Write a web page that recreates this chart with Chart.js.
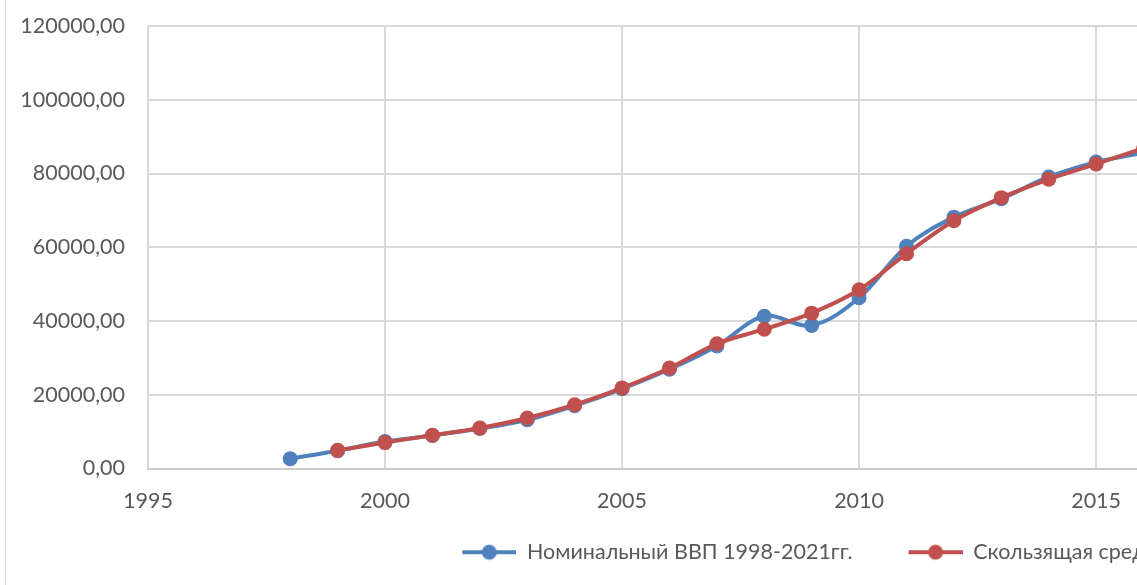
<!DOCTYPE html>
<html>
<head>
<meta charset="utf-8">
<script src="https://cdn.jsdelivr.net/npm/chart.js@4/dist/chart.umd.min.js"></script>
<style>
  html, body { margin: 0; padding: 0; background: #fff; overflow: hidden; }
  #wrap { position: relative; width: 1630px; height: 585px; }
  #frame { position: absolute; left: 5px; top: -4px; width: 1615px; height: 620px; border: 1px solid #d9d9d9; box-sizing: border-box; }
  #chart { position: absolute; left: 0; top: 0; }
</style>
</head>
<body>
<div id="wrap">
  <div id="frame"></div>
  <canvas id="chart" width="1630" height="585"></canvas>
</div>
<script>
// Номинальный ВВП по годам
const gdpYears = [1998, 1999, 2000, 2001, 2002, 2003, 2004, 2005, 2006, 2007, 2008, 2009, 2010, 2011, 2012, 2013, 2014, 2015, 2016];
const gdpValues = [2629, 4823, 7306, 8944, 10831, 13208, 17027, 21610, 26917, 33248, 41277, 38807, 46309, 60283, 68164, 73134, 79058, 83087, 85616];

// Скользящая средняя (начинается с 1999 г.)
const maYears = [1999, 2000, 2001, 2002, 2003, 2004, 2005, 2006, 2007, 2008, 2009, 2010, 2011, 2012, 2013, 2014, 2015, 2016];
const maValues = [4919, 7024, 9027, 10994, 13689, 17282, 21851, 27258, 33814, 37777, 42131, 48466, 58252, 67194, 73452, 78426, 82587, 86849];

const seriesLabels = ['Номинальный ВВП 1998-2021гг.', 'Скользящая средняя'];

const BLUE = '#4f81bd';
const RED = '#c0504d';
const GRID = '#d9d9d9';
const TEXT = '#595959';
const FONT = 'Lato, "Open Sans", sans-serif';
const FS = 21.5;

const toPoints = (xs, ys) => xs.map((x, i) => ({ x, y: ys[i] }));

// Значок легенды: линия с маркером, слева прозрачный отступ (расстояние между элементами)
const LEG_GAP = 31;
function legendMarker(color) {
  const c = document.createElement('canvas');
  c.width = 54 + LEG_GAP; c.height = 18;
  const g = c.getContext('2d');
  g.strokeStyle = color; g.lineWidth = 4;
  g.beginPath(); g.moveTo(LEG_GAP, 9); g.lineTo(LEG_GAP + 54, 9); g.stroke();
  g.fillStyle = color;
  g.beginPath(); g.arc(LEG_GAP + 27, 9, 7.5, 0, Math.PI * 2); g.fill();
  return c;
}
const markers = [legendMarker(BLUE), legendMarker(RED)];

const fmt = (v) => v.toFixed(2).replace('.', ',');

new Chart(document.getElementById('chart'), {
  type: 'line',
  data: {
    datasets: [
      {
        label: seriesLabels[0], data: toPoints(gdpYears, gdpValues),
        borderColor: BLUE, backgroundColor: BLUE, borderWidth: 4,
        pointRadius: 7.5, pointBorderWidth: 0, pointBackgroundColor: BLUE,
        tension: 0.35, order: 1
      },
      {
        label: seriesLabels[1], data: toPoints(maYears, maValues),
        borderColor: RED, backgroundColor: RED, borderWidth: 4,
        pointRadius: 7.5, pointBorderWidth: 0, pointBackgroundColor: RED,
        tension: 0.35, order: 0
      }
    ]
  },
  options: {
    responsive: false,
    animation: false,
    layout: { padding: { top: 26, left: 0, right: 20, bottom: 12 } },
    plugins: {
      tooltip: { enabled: false },
      legend: {
        position: 'bottom',
        labels: {
          usePointStyle: true,
          pointStyleWidth: 54 + LEG_GAP,
          padding: 25,
          color: TEXT,
          font: { family: FONT, size: FS },
          generateLabels: (chart) => chart.data.datasets.map((ds, i) => ({
            text: ds.label, pointStyle: markers[i], fillStyle: ds.borderColor,
            strokeStyle: ds.borderColor, lineWidth: 0, hidden: false,
            datasetIndex: i, fontColor: TEXT
          }))
        }
      }
    },
    scales: {
      x: {
        type: 'linear', min: 1995, max: 2025.84,
        afterFit: (s) => { s.height = 48; },
        grid: { color: GRID, lineWidth: 2, drawTicks: false },
        border: { color: '#cccccc', width: 2 },
        ticks: {
          stepSize: 5, padding: 20, color: TEXT, font: { family: FONT, size: FS },
          callback: (v) => (v % 5 === 0 ? String(v) : '')
        }
      },
      y: {
        min: 0, max: 120000,
        afterFit: (s) => { s.width = 148; s.paddingTop = 0; s.paddingBottom = 0; },
        grid: { color: GRID, lineWidth: 2, drawTicks: false },
        border: { display: false },
        ticks: { stepSize: 20000, padding: 23, color: TEXT, font: { family: FONT, size: FS }, callback: (v) => fmt(v) }
      }
    }
  }
});
</script>
</body>
</html>
